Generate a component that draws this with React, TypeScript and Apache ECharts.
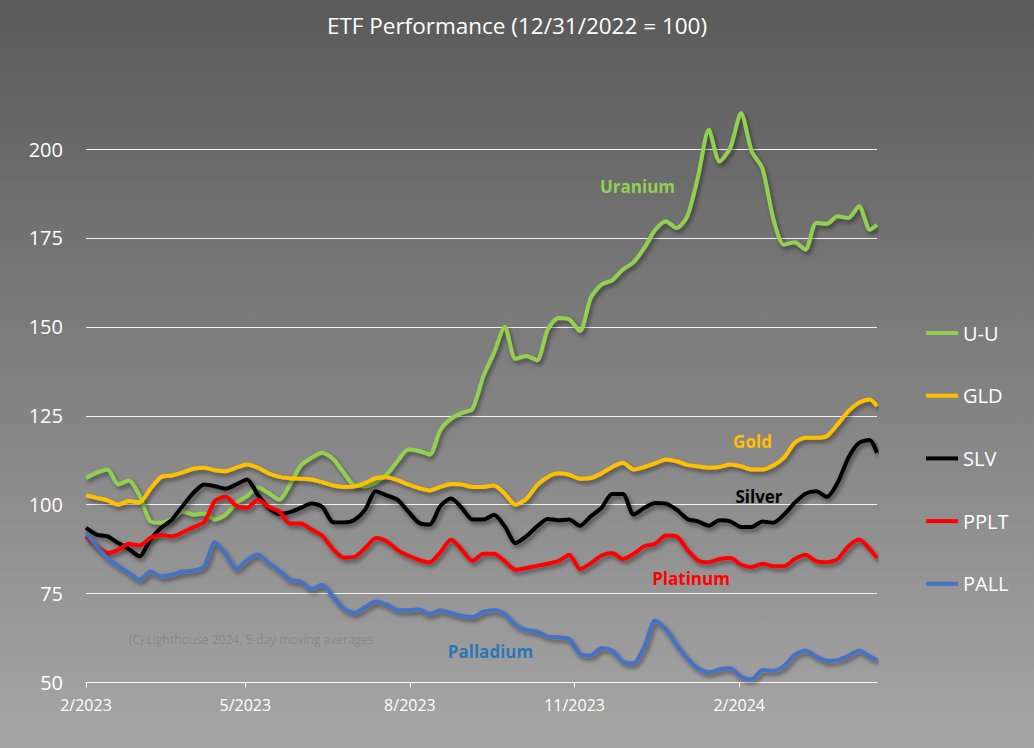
import React, { useEffect, useRef } from "react";
import * as echarts from "echarts";

// ---- data ----
const seriesNames = ["U-U", "GLD", "SLV", "PPLT", "PALL"];
const seriesColors = ["#92d050", "#ffc000", "#000000", "#ff0000", "#4472c4"];

// day offsets from 2/1/2023 (axis runs to ~4/18/2024)
const dayCount = 443;
const dayCategories = Array.from({ length: dayCount }, (_, i) => String(i));
const sampleDays = Array.from({ length: 74 }, (_, i) => i * 6).concat([442]);

const xTickDays = [0, 89, 181, 273, 365];
const xTickLabels = ["2/2023", "5/2023", "8/2023", "11/2023", "2/2024"];

const uuValues = [
  107.5, 109.0, 109.9, 105.7, 106.8, 102.4, 95.3, 94.9, 96.1, 98.1,
  97.2, 97.5, 95.8, 97.2, 100.5, 102.4, 104.8, 103.3, 101.4, 105.7,
  111.0, 113.2, 114.6, 112.9, 109.0, 105.4, 105.2, 106.3, 108.5, 112.2,
  115.5, 115.1, 114.1, 121.0, 124.2, 125.8, 127.0, 136.1, 142.7, 150.0,
  141.0, 141.8, 140.6, 149.3, 152.5, 152.1, 148.8, 158.1, 161.9, 163.1,
  166.1, 168.2, 172.2, 177.2, 179.7, 177.8, 181.1, 192.3, 205.4, 196.5,
  200.3, 210.1, 199.3, 194.5, 180.5, 173.1, 173.8, 171.7, 179.2, 179.0,
  181.1, 180.6, 183.9, 177.3, 178.7,
];
const gldValues = [
  102.6, 101.9, 101.2, 100.0, 101.0, 100.7, 104.5, 107.8, 108.2, 109.1,
  110.1, 110.4, 109.7, 109.4, 110.4, 111.3, 110.4, 108.8, 107.8, 107.4,
  107.3, 107.1, 106.3, 105.4, 105.0, 105.1, 106.1, 107.5, 107.7, 106.9,
  105.7, 104.7, 104.0, 105.0, 105.8, 105.7, 105.0, 105.0, 105.4, 103.1,
  100.0, 101.6, 105.4, 107.8, 108.8, 108.4, 107.3, 107.5, 108.8, 110.6,
  111.8, 109.9, 110.6, 111.6, 112.7, 112.2, 111.2, 110.8, 110.4, 110.6,
  111.3, 110.8, 109.9, 109.9, 111.0, 113.2, 117.4, 118.8, 118.8, 119.3,
  122.6, 126.3, 128.7, 129.6, 127.7,
];
const slvValues = [
  93.5, 91.6, 91.1, 89.2, 87.5, 85.5, 90.2, 93.5, 95.8, 99.6,
  103.3, 105.7, 105.2, 104.5, 105.7, 107.1, 102.8, 99.1, 97.4, 97.9,
  99.1, 100.3, 99.4, 95.1, 95.0, 95.7, 98.6, 103.8, 102.6, 101.4,
  98.1, 94.9, 94.4, 99.6, 101.7, 99.1, 95.8, 95.8, 97.2, 93.9,
  89.2, 91.1, 93.9, 96.0, 95.6, 95.8, 94.1, 96.7, 99.1, 103.0,
  103.0, 97.2, 99.1, 100.5, 100.3, 98.6, 96.0, 95.3, 94.1, 95.6,
  95.3, 93.7, 93.7, 95.3, 94.9, 97.2, 100.5, 103.1, 103.8, 102.2,
  106.2, 113.2, 117.4, 118.2, 114.6,
];
const ppltValues = [
  91.1, 88.3, 86.4, 87.3, 89.0, 88.5, 90.7, 91.5, 91.1, 92.2,
  93.7, 95.1, 101.0, 102.2, 99.7, 99.1, 101.4, 99.4, 98.1, 94.7,
  94.7, 93.0, 91.3, 87.5, 85.1, 85.3, 87.8, 90.6, 89.7, 87.3,
  85.7, 84.5, 83.8, 86.6, 90.2, 87.3, 84.2, 86.2, 86.2, 84.1,
  81.7, 82.2, 82.8, 83.4, 84.1, 85.9, 81.9, 83.5, 85.7, 86.4,
  84.7, 86.2, 88.3, 89.0, 91.3, 91.1, 87.3, 84.3, 83.8, 84.7,
  85.0, 83.1, 82.5, 83.4, 82.7, 82.7, 84.7, 85.9, 84.1, 83.8,
  84.7, 88.3, 90.2, 87.5, 85.0,
];
const pallValues = [
  92.0, 88.3, 85.0, 82.8, 80.8, 78.9, 81.2, 79.8, 80.3, 81.2,
  81.4, 82.6, 89.4, 86.2, 81.9, 84.5, 86.0, 83.6, 81.5, 78.9,
  78.4, 76.3, 77.5, 74.2, 70.8, 69.6, 71.2, 72.8, 71.9, 70.4,
  70.3, 70.6, 69.3, 70.3, 69.5, 68.7, 68.4, 69.9, 70.3, 69.3,
  66.2, 64.8, 64.3, 62.9, 62.7, 62.2, 58.0, 57.6, 59.7, 59.0,
  55.9, 55.4, 60.1, 67.4, 65.0, 60.6, 56.8, 54.0, 52.9, 53.7,
  54.0, 51.6, 50.9, 53.5, 53.3, 54.6, 57.8, 59.0, 57.3, 56.1,
  56.3, 57.5, 59.0, 57.3, 56.3,
];
const allValues = [uuValues, gldValues, slvValues, ppltValues, pallValues];

const titleText = "ETF Performance (12/31/2022 = 100)";
const noteText = "(C) Lighthouse 2024, 5-day moving averages";
const FONT = "'Open Sans', sans-serif";

export default function App() {
  const ref = useRef<HTMLDivElement>(null);

  useEffect(() => {
    if (!ref.current) return;
    const chart = echarts.init(ref.current, undefined, { renderer: "svg" });

    const label = (text: string, x: number, y: number, color: string) => ({
      type: "text",
      x,
      y,
      z: 100,
      style: {
        text,
        fill: color,
        font: `bold 17px ${FONT}`,
        align: "center",
        verticalAlign: "middle",
      },
    });

    chart.setOption({
      animation: false,
      backgroundColor: "transparent",
      textStyle: { fontFamily: FONT },
      title: {
        text: titleText,
        left: "center",
        top: 9,
        textStyle: { color: "#ffffff", fontSize: 22.5, fontWeight: "normal", fontFamily: FONT },
      },
      legend: {
        orient: "vertical",
        left: 921,
        top: 318,
        itemWidth: 32,
        itemHeight: 4,
        itemGap: 42.7,
        icon: "rect",
        data: seriesNames,
        textStyle: { color: "#ffffff", fontSize: 20, lineHeight: 20, fontFamily: FONT },
      },
      grid: { left: 86, right: 157, top: 149, bottom: 65.5, containLabel: false },
      xAxis: {
        type: "category",
        data: dayCategories,
        boundaryGap: false,
        axisLine: { lineStyle: { color: "#ffffff", width: 1 } },
        axisTick: {
          show: true,
          length: 5,
          interval: (idx: number) => xTickDays.includes(idx),
          lineStyle: { color: "#ffffff" },
        },
        axisLabel: {
          interval: (idx: number) => xTickDays.includes(idx),
          formatter: (_v: string, idx: number) => {
            const k = xTickDays.indexOf(idx);
            return k >= 0 ? xTickLabels[k] : "";
          },
          color: "#ffffff",
          fontSize: 16,
          margin: 14,
          fontFamily: FONT,
        },
        splitLine: { show: false },
      },
      yAxis: {
        type: "value",
        min: 50,
        max: 200,
        interval: 25,
        axisLine: { show: false },
        axisTick: { show: false },
        axisLabel: { color: "#ffffff", fontSize: 20, margin: 23, fontFamily: FONT },
        splitLine: { lineStyle: { color: "#f2f2f2", width: 1 } },
      },
      series: seriesNames.map((name, s) => ({
        name,
        type: "line",
        data: sampleDays.map((d, i) => [d, allValues[s][i]]),
        symbol: "none",
        showSymbol: false,
        smooth: 0.25,
        clip: false,
        color: seriesColors[s],
        lineStyle: {
          width: 4,
          color: seriesColors[s],
          shadowColor: "rgba(0,0,0,0.45)",
          shadowBlur: 4,
          shadowOffsetX: 2,
          shadowOffsetY: 3,
        },
        z: 2 + s,
      })),
      graphic: [
        label("Uranium", 637.5, 186, "#92d050"),
        label("Gold", 752.5, 441, "#ffc000"),
        label("Silver", 759, 496, "#000000"),
        label("Platinum", 691, 578, "#ff0000"),
        label("Palladium", 490.5, 651, "#2e75b6"),
        {
          type: "text",
          x: 129,
          y: 639,
          z: 100,
          style: {
            text: noteText,
            fill: "#888888",
            font: `12px ${FONT}`,
            align: "left",
            verticalAlign: "middle",
          },
        },
      ],
    });

    return () => chart.dispose();
  }, []);

  return (
    <div
      style={{
        position: "fixed",
        left: 0,
        top: 0,
        width: 1034,
        height: 748,
        background: "linear-gradient(to bottom, #5a5a5a 0%, #a6a6a6 100%)",
      }}
    >
      <div ref={ref} style={{ width: 1034, height: 748 }} />
    </div>
  );
}
